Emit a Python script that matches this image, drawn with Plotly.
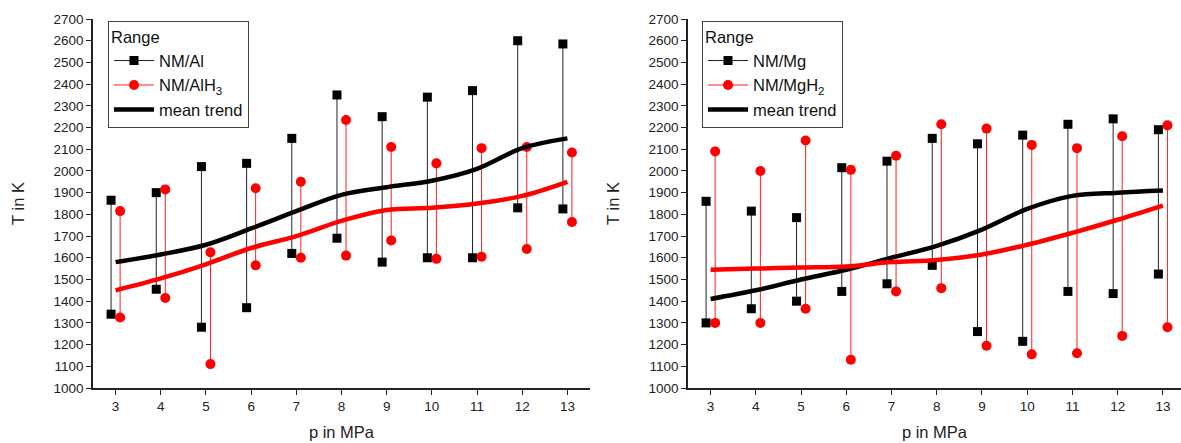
import plotly.graph_objects as go

p = [3, 4, 5, 6, 7, 8, 9, 10, 11, 12, 13]

# Left panel: NM/Al and NM/AlH3 ranges (high, low)
al_high = [1865, 1900, 2020, 2035, 2150, 2350, 2250, 2340, 2370, 2600, 2585]
al_low = [1340, 1455, 1280, 1370, 1620, 1690, 1580, 1600, 1600, 1830, 1825]
alh3_high = [1815, 1915, 1625, 1920, 1950, 2235, 2110, 2035, 2105, 2110, 2085]
alh3_low = [1325, 1415, 1110, 1565, 1600, 1610, 1680, 1595, 1605, 1640, 1765]
al_trend = [1580, 1615, 1660, 1735, 1815, 1890, 1925, 1955, 2010, 2105, 2150]
alh3_trend = [1450, 1505, 1570, 1645, 1700, 1770, 1820, 1830, 1850, 1885, 1950]

# Right panel: NM/Mg and NM/MgH2 ranges (high, low)
mg_high = [1860, 1815, 1785, 2015, 2045, 2150, 2125, 2165, 2215, 2240, 2190]
mg_low = [1300, 1365, 1400, 1445, 1480, 1565, 1260, 1215, 1445, 1435, 1525]
mgh2_high = [2090, 2000, 2140, 2005, 2070, 2215, 2195, 2120, 2105, 2160, 2210]
mgh2_low = [1300, 1300, 1365, 1130, 1445, 1460, 1195, 1155, 1160, 1240, 1280]
mg_trend = [1410, 1450, 1500, 1545, 1600, 1655, 1730, 1825, 1885, 1900, 1910]
mgh2_trend = [1545, 1550, 1555, 1560, 1580, 1590, 1615, 1660, 1715, 1775, 1840]

y_ticks = list(range(1000, 2701, 100))
OFF = 0.1
FONT = "Liberation Sans, Arial, sans-serif"


def ranges(xs, hi, lo, dx):
    X, Y = [], []
    for x, h, l in zip(xs, hi, lo):
        X += [x + dx, x + dx, None]
        Y += [h, l, None]
    return X, Y


fig = go.Figure()


def add_panel(xa, ya, leg, hi1, lo1, hi2, lo2, tr1, tr2, n1, n2):
    X, Y = ranges(p, hi1, lo1, -OFF)
    fig.add_trace(go.Scatter(x=X, y=Y, mode="lines+markers", name=n1,
                             line=dict(color="#222222", width=1),
                             marker=dict(symbol="square", size=9, color="black"),
                             xaxis=xa, yaxis=ya, legend=leg, connectgaps=False))
    X, Y = ranges(p, hi2, lo2, OFF)
    fig.add_trace(go.Scatter(x=X, y=Y, mode="lines+markers", name=n2,
                             line=dict(color="#ff2020", width=1),
                             marker=dict(symbol="circle", size=10, color="#ff0000"),
                             xaxis=xa, yaxis=ya, legend=leg, connectgaps=False))
    fig.add_trace(go.Scatter(x=p, y=tr1, mode="lines", name="mean trend",
                             line=dict(color="black", width=4.5, shape="spline", smoothing=1.0),
                             xaxis=xa, yaxis=ya, legend=leg))
    fig.add_trace(go.Scatter(x=p, y=tr2, mode="lines", name="mean trend red",
                             line=dict(color="#ff0000", width=4.5, shape="spline", smoothing=1.0),
                             xaxis=xa, yaxis=ya, legend=leg, showlegend=False))


add_panel("x", "y", "legend", al_high, al_low, alh3_high, alh3_low, al_trend, alh3_trend,
          "NM/Al", "NM/AlH<sub>3</sub>")
add_panel("x2", "y2", "legend2", mg_high, mg_low, mgh2_high, mgh2_low, mg_trend, mgh2_trend,
          "NM/Mg", "NM/MgH<sub>2</sub>")

axis_common = dict(showline=True, linecolor="#222222", linewidth=1.5, ticks="outside",
                   ticklen=5, tickwidth=1.2, tickcolor="#222222", showgrid=False,
                   zeroline=False, tickfont=dict(size=13.5, color="#222222", family=FONT),
                   title_font=dict(size=16.5, color="#222222", family=FONT))

W = 1181
legend_common = dict(xanchor="left", yanchor="top",
                     bordercolor="#444444", borderwidth=1, bgcolor="white",
                     title=dict(text="Range", font=dict(size=16.5, family=FONT)),
                     font=dict(size=16.5, family=FONT, color="#111111"),
                     tracegroupgap=0, itemwidth=40)
fig.update_layout(
    width=W, height=443,
    margin=dict(l=0, r=0, t=19, b=55),
    plot_bgcolor="white", paper_bgcolor="white",
    font=dict(family=FONT, color="#222222"),
    xaxis=dict(domain=[93 / W, 590 / W], range=[2.5, 13.5], tickvals=p,
               title=dict(text="p in MPa", standoff=13), anchor="y", **axis_common),
    yaxis=dict(range=[1000, 2700], tickvals=y_ticks, anchor="x",
               title=dict(text="T in K", standoff=25), **axis_common),
    xaxis2=dict(domain=[688 / W, 1.0], range=[2.5, 13.4], tickvals=p,
                title=dict(text="p in MPa", standoff=13), anchor="y2", **axis_common),
    yaxis2=dict(range=[1000, 2700], tickvals=y_ticks, anchor="x2",
                title=dict(text="T in K", standoff=25), **axis_common),
    legend=dict(x=108 / W, y=0.995, **legend_common),
    legend2=dict(x=702 / W, y=0.995, **legend_common),
    showlegend=True,
)

fig.write_html("out.html")
